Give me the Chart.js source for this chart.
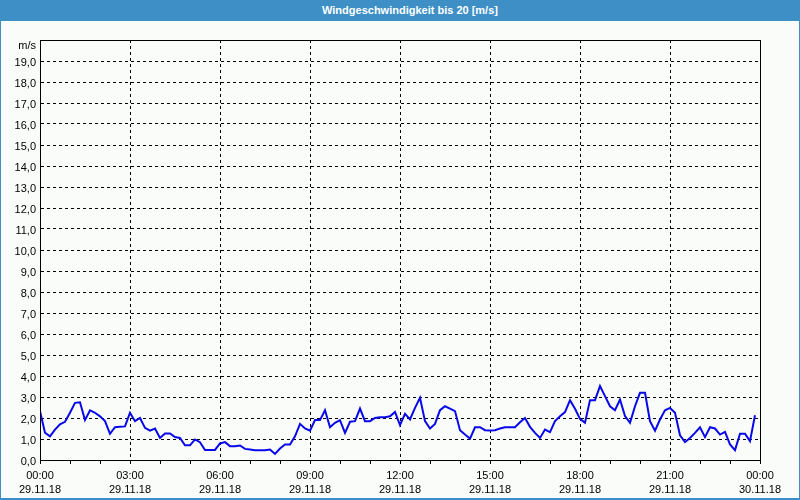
<!DOCTYPE html>
<html>
<head>
<meta charset="utf-8">
<script src="https://cdn.jsdelivr.net/npm/chart.js@4/dist/chart.umd.min.js"></script>
<style>
  body { margin: 0; background: #fafcfa; }
  #wrap { position: absolute; left: 0; top: 0; width: 800px; height: 500px; }
  #title {
    position: absolute; left: 0; top: 0; width: 800px; height: 21px;
    background: #3d8fc6; color: #fff; z-index: 2;
    font: bold 11px "Liberation Sans", sans-serif; line-height: 21px;
    text-align: center; box-sizing: border-box; padding-left: 20px;
  }
  #frame {
    position: absolute; left: 0; top: 0; width: 800px; height: 500px; z-index: 3;
    box-sizing: border-box; border: 1px solid #3d8fc6; border-bottom-width: 2px;
    pointer-events: none;
  }
</style>
</head>
<body>
<div id="title">Windgeschwindigkeit bis 20 [m/s]</div>
<div id="frame"></div>
<div id="wrap"><canvas id="chart" width="800" height="500"></canvas></div>
<script>
// Windgeschwindigkeit, 10-Minuten-Werte ab 29.11.18 00:00
const stepMinutes = 10
const speed = [
  2.32, 1.30, 1.13, 1.45, 1.70, 1.82, 2.25, 2.72, 2.75, 1.90,
  2.37, 2.25, 2.08, 1.85, 1.25, 1.56, 1.58, 1.60, 2.25, 1.85,
  2.00, 1.53, 1.40, 1.50, 1.05, 1.26, 1.26, 1.09, 1.05, 0.70,
  0.70, 0.98, 0.85, 0.48, 0.48, 0.48, 0.79, 0.85, 0.66, 0.66,
  0.69, 0.53, 0.50, 0.47, 0.47, 0.47, 0.50, 0.29, 0.55, 0.74,
  0.74, 1.13, 1.72, 1.50, 1.40, 1.90, 1.90, 2.37, 1.56, 1.77,
  1.90, 1.29, 1.82, 1.85, 2.45, 1.85, 1.85, 2.00, 2.04, 2.04,
  2.08, 2.29, 1.66, 2.20, 1.93, 2.48, 2.96, 1.85, 1.50, 1.72,
  2.37, 2.56, 2.45, 2.33, 1.42, 1.21, 1.02, 1.56, 1.56, 1.42,
  1.40, 1.42, 1.50, 1.56, 1.56, 1.56, 1.80, 2.00, 1.58, 1.29,
  1.05, 1.45, 1.33, 1.85, 2.08, 2.28, 2.85, 2.44, 1.96, 1.77,
  2.85, 2.85, 3.52, 3.04, 2.56, 2.37, 2.88, 2.09, 1.77, 2.56,
  3.20, 3.20, 1.85, 1.40, 1.93, 2.37, 2.48, 2.25, 1.18, 0.85,
  1.05, 1.29, 1.56, 1.09, 1.56, 1.50, 1.21, 1.34, 0.74, 0.47,
  1.25, 1.25, 0.90, 2.13
]

const xTickTimes = ['00:00', '03:00', '06:00', '09:00', '12:00', '15:00', '18:00', '21:00', '00:00']
const xTickDates = ['29.11.18', '29.11.18', '29.11.18', '29.11.18', '29.11.18', '29.11.18', '29.11.18', '29.11.18', '30.11.18']
const unitLabel = 'm/s'

let points = speed.map(function(v, i) {
    return { x: i * stepMinutes, y: v }
})

const font = { family: 'Liberation Sans', size: 11, lineHeight: 1.3 }

// Rahmen oben/rechts um den Plotbereich + Einheit oben links
const framePlugin = {
    id: 'plotFrame',
    afterDraw(chart) {
        const a = chart.chartArea
        const c = chart.ctx
        c.save()
        c.strokeStyle = '#000'
        c.lineWidth = 1
        c.strokeRect(a.left + 0.5, a.top + 0.5, a.right - a.left, a.bottom - a.top)
        c.fillStyle = '#000'
        c.font = '11px "Liberation Sans"'
        c.textAlign = 'right'
        c.textBaseline = 'middle'
        c.fillText(unitLabel, a.left - 4, a.top + 6)
        c.restore()
    }
}

let ctx = document.getElementById('chart')

let chartGraph = new Chart(ctx, {
    type: 'line',
    data: {
        datasets: [{
            data: points,
            borderColor: '#0808e8',
            borderWidth: 2,
            pointRadius: 0,
            tension: 0,
            fill: false
        }]
    },
    plugins: [framePlugin],
    options: {
        responsive: false,
        animation: false,
        layout: { padding: { top: 40, right: 40, left: 0, bottom: 0 } },
        plugins: {
            legend: { display: false },
            tooltip: { enabled: false }
        },
        scales: {
            x: {
                type: 'linear',
                min: 0,
                max: 1440,
                afterFit(s) { s.height = 40 },
                afterBuildTicks(s) {
                    s.ticks = []
                    for (let m = 0; m <= 1440; m += 60) s.ticks.push({ value: m })
                },
                ticks: {
                    autoSkip: false,
                    maxRotation: 0,
                    padding: 5,
                    color: '#000',
                    font: font,
                    callback: function(v) {
                        if (v % 180 !== 0) return ''
                        const k = v / 180
                        return [xTickTimes[k], xTickDates[k]]
                    }
                },
                grid: {
                    color: function(c) { return c.tick && c.tick.value % 180 === 0 ? '#000' : 'rgba(0,0,0,0)' },
                    tickColor: '#000',
                    tickLength: 4,
                    lineWidth: 1
                },
                border: { display: true, color: '#000', width: 1, dash: [3, 3] }
            },
            y: {
                min: 0,
                max: 20,
                afterFit(s) { s.width = 40 },
                ticks: {
                    stepSize: 1,
                    padding: 4,
                    labelOffset: 2,
                    color: '#000',
                    font: font,
                    callback: function(v) {
                        if (v === 20) return ''
                        return v.toFixed(1).replace('.', ',')
                    }
                },
                grid: {
                    color: '#000',
                    drawTicks: false,
                    lineWidth: 1
                },
                border: { display: true, color: '#000', width: 1, dash: [3, 3] }
            }
        }
    }
});
</script>
</body>
</html>
